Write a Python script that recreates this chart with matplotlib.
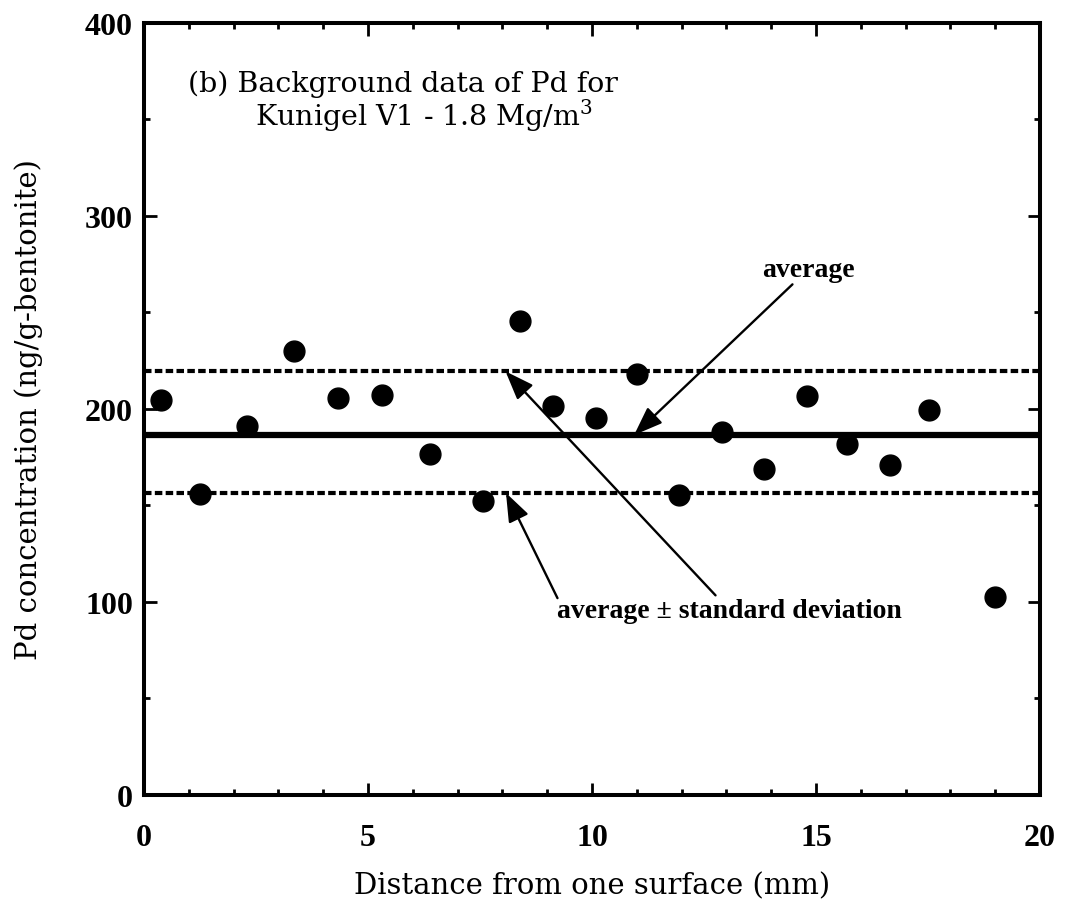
import matplotlib
matplotlib.use('Agg')
import matplotlib.pyplot as plt
from matplotlib.ticker import MultipleLocator

# Background Pd data
distance_mm = [0.39, 1.26, 2.30, 3.34, 4.32, 5.31, 6.38, 7.56, 8.40, 9.12,
               10.10, 11.00, 11.95, 12.90, 13.84, 14.79, 15.69, 16.66, 17.53, 18.99]
pd_conc = [204.5, 156.1, 191.3, 230.2, 205.8, 207.2, 176.6, 152.2, 245.8, 201.4,
           195.2, 218.1, 155.3, 188.1, 168.9, 206.6, 182.0, 171.0, 199.6, 102.8]

avg_value = 186.5
avg_minus_sd = 156.5
avg_plus_sd = 219.5

x_ticks = [0, 5, 10, 15, 20]
y_ticks = [0, 100, 200, 300, 400]

plt.rcParams['font.family'] = ['Liberation Serif', 'DejaVu Serif']
plt.rcParams['mathtext.fontset'] = 'custom'
plt.rcParams['mathtext.rm'] = 'DejaVu Serif'

fig = plt.figure(figsize=(10.65, 9.12), dpi=100)
ax = fig.add_axes([0.1352, 0.1272, 0.8413, 0.8465])

# average and +/- standard deviation lines
ax.axhline(avg_value, color='black', lw=4.5, zorder=2)
ax.axhline(avg_plus_sd, color='black', lw=3.0, ls=(0, (1.8, 0.8)), zorder=2)
ax.axhline(avg_minus_sd, color='black', lw=3.0, ls=(0, (1.8, 0.8)), zorder=2)

ax.plot(distance_mm, pd_conc, 'o', color='black', ms=15, zorder=3)

ax.set_xlim(0, 20)
ax.set_ylim(0, 400)
ax.set_xticks(x_ticks)
ax.set_yticks(y_ticks)
ax.xaxis.set_minor_locator(MultipleLocator(1))
ax.yaxis.set_minor_locator(MultipleLocator(50))
ax.tick_params(which='both', direction='in', top=True, right=True)
ax.tick_params(which='major', length=9, width=2.0, labelsize=23)
ax.tick_params(which='minor', length=4.5, width=2.0)
ax.tick_params(axis='x', which='major', pad=20)
ax.tick_params(axis='y', which='major', pad=8)
for lbl in ax.get_xticklabels() + ax.get_yticklabels():
    lbl.set_fontweight('bold')
for sp in ax.spines.values():
    sp.set_linewidth(2.9)

ax.set_xlabel('Distance from one surface (mm)', fontsize=21, family='DejaVu Serif', labelpad=14)
ax.set_ylabel('Pd concentration (ng/g-bentonite)', fontsize=21, family='DejaVu Serif', labelpad=30)

# panel caption
ax.text(0.99, 368.5, '(b) Background data of Pd for', fontsize=20.5, family='DejaVu Serif',
        va='center', ha='left')
ax.text(2.47, 352.5, r'Kunigel V1 - 1.8 Mg/m$^{\mathrm{3}}$', fontsize=20.5, family='DejaVu Serif',
        va='center', ha='left')

arrow = dict(arrowstyle='-|>,head_length=0.8,head_width=0.3', mutation_scale=22,
             color='black', lw=1.7, shrinkA=0, shrinkB=0)

ax.annotate('average', xy=(10.94, avg_value), xytext=(13.8, 272.5),
            fontsize=20, fontweight='bold', va='center', ha='left', arrowprops=arrow)

ax.annotate('average \u00b1 standard deviation', xy=(8.07, avg_plus_sd), xytext=(9.23, 102),
            fontsize=20, fontweight='bold', va='top', ha='left', arrowprops=arrow)
ax.annotate('', xy=(8.08, avg_minus_sd), xytext=(9.23, 102), arrowprops=arrow)

fig.savefig('out.png', dpi=100)
